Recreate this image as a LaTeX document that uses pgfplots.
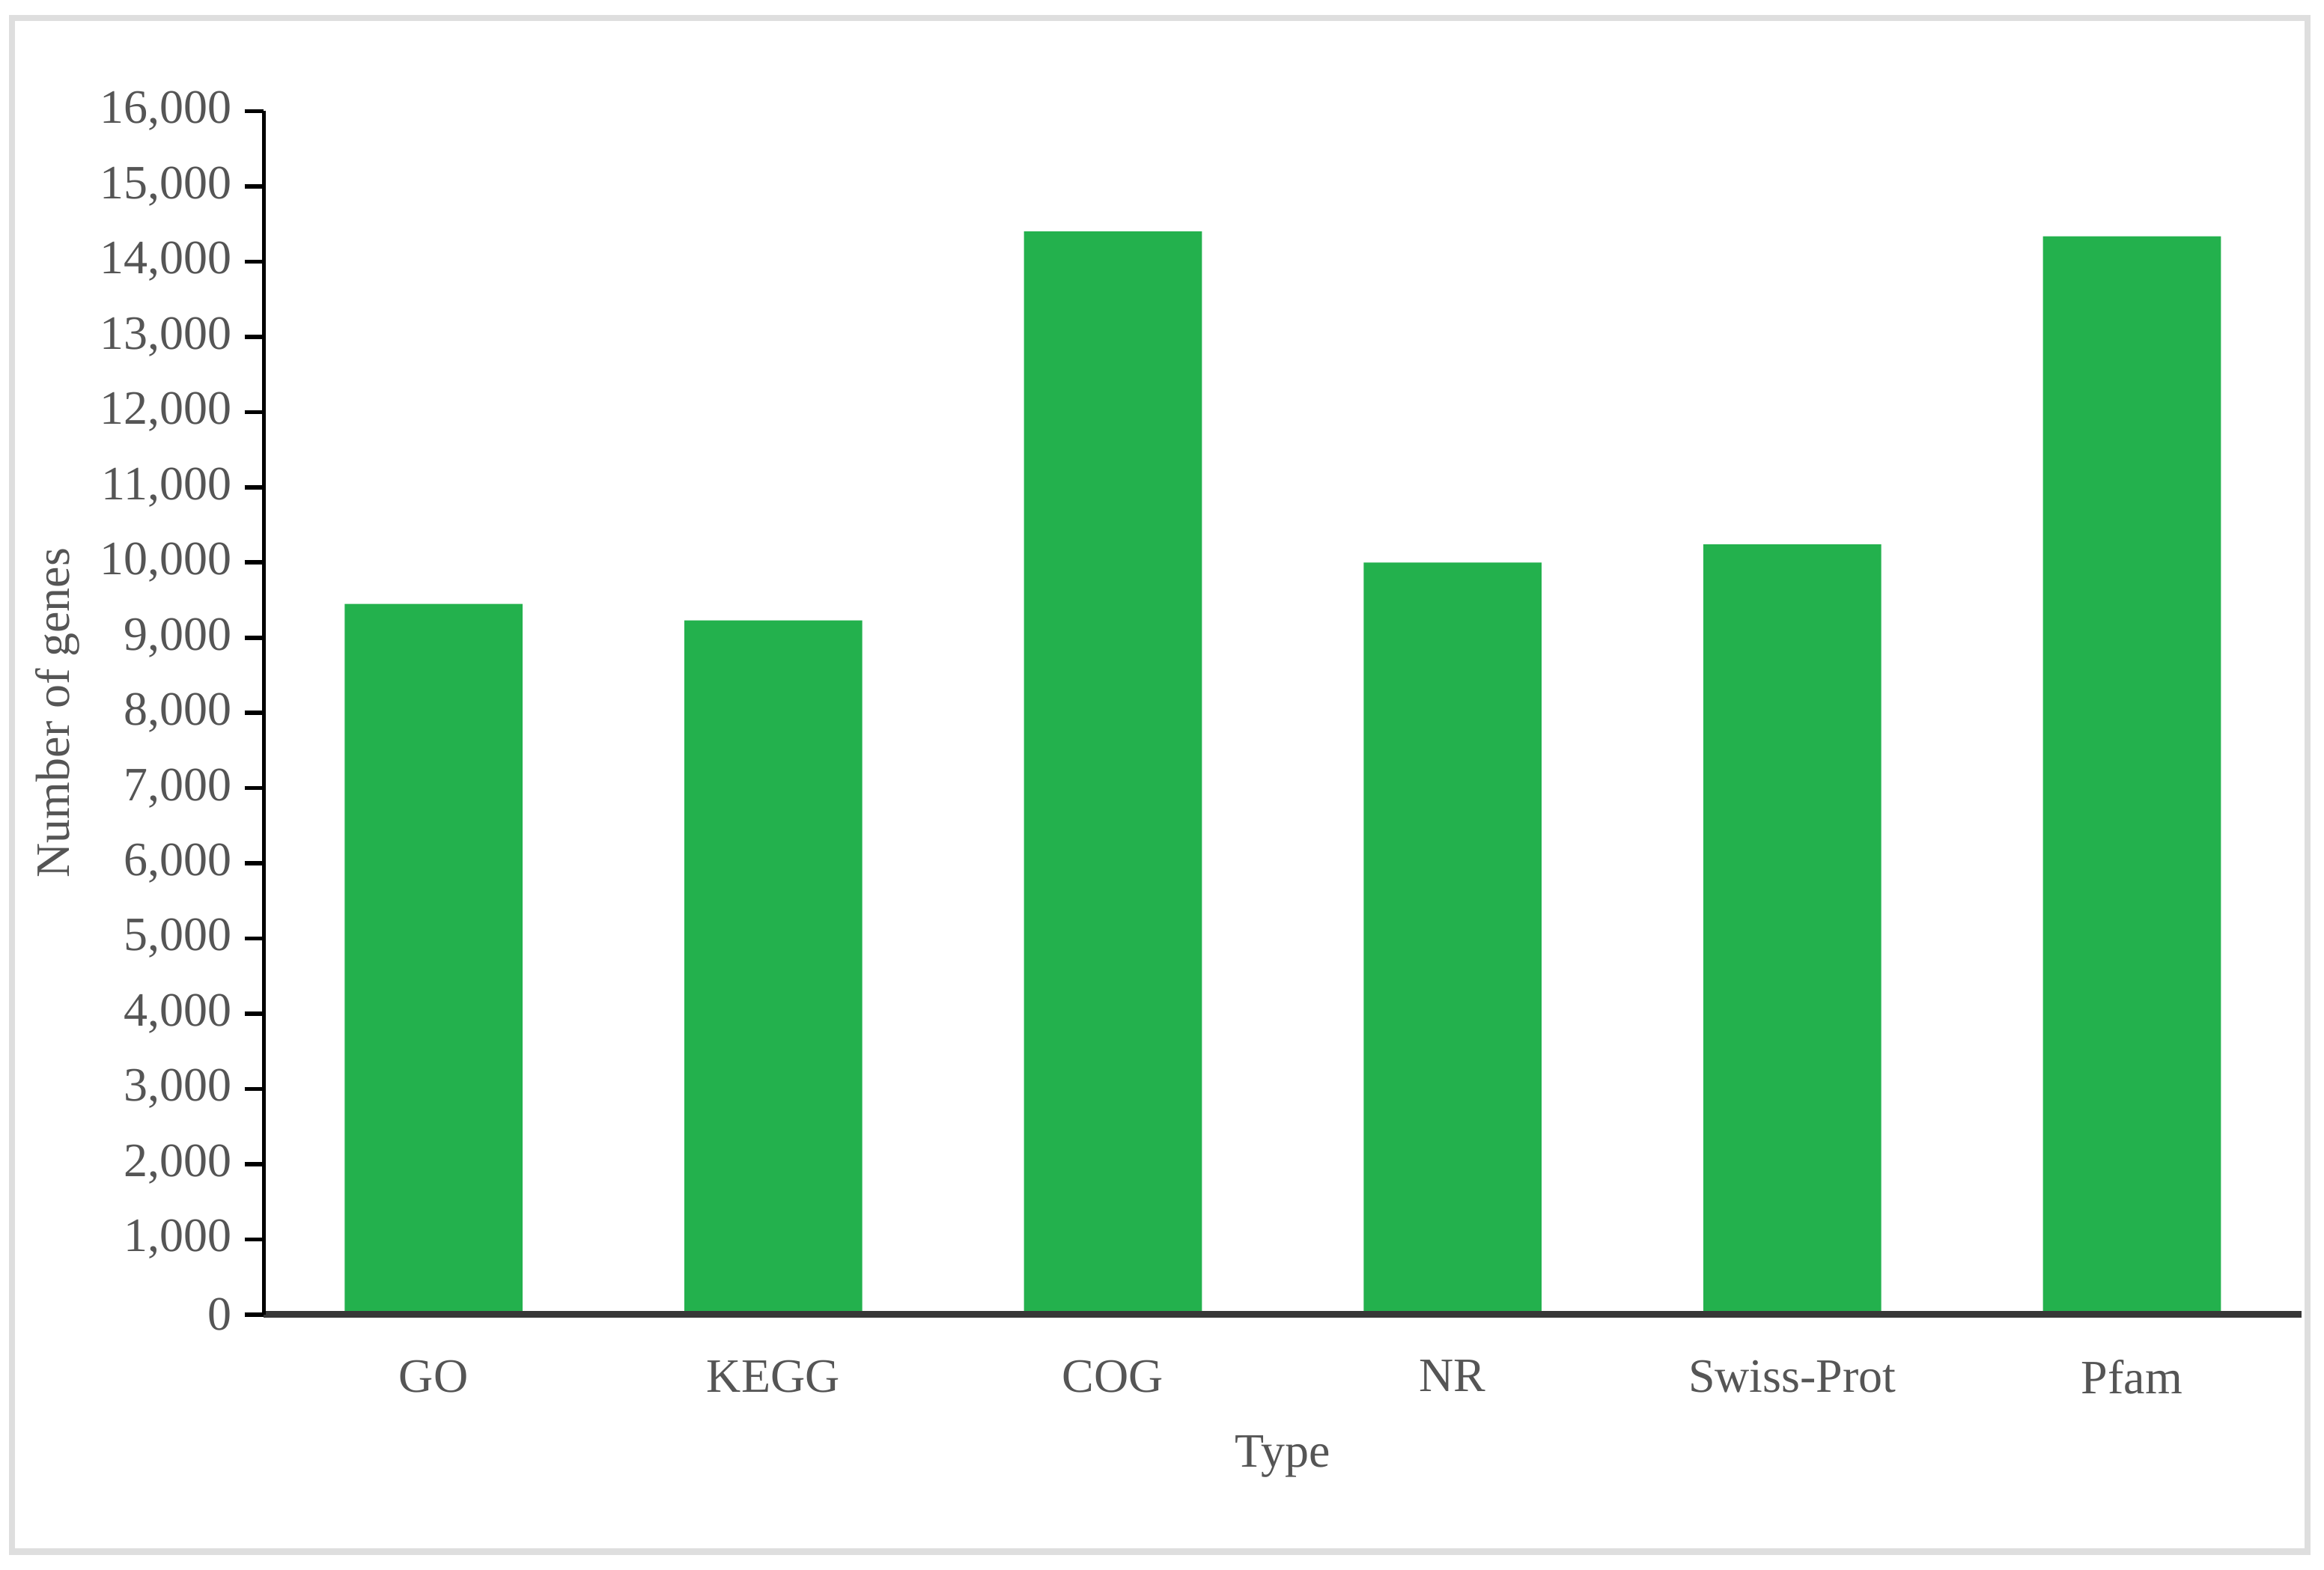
\documentclass[border=0pt]{standalone}
\usepackage{fontspec}
\setmainfont{Liberation Serif}
\usepackage{pgfplots}
\pgfplotsset{compat=1.18}
\definecolor{bargreen}{RGB}{35,177,77}
\definecolor{txtgray}{RGB}{85,85,85}
\definecolor{framegray}{RGB}{222,222,222}
\definecolor{xaxisgray}{RGB}{55,55,55}

\begin{document}
\begin{tikzpicture}
\useasboundingbox (-1.78,-1.72) rectangle (13.90,8.87);
\draw[framegray, line width=1.2pt] (-1.70,-1.60) rectangle (13.79,8.75);
\begin{axis}[
  width=13.75cm, height=8.12cm, scale only axis,
  ybar, bar width=1.2cm,
  xmin=-0.5, xmax=5.5, ymin=0, ymax=16000,
  enlargelimits=false,
  xtick={0,...,5},
  xticklabels={GO,KEGG,COG,NR,Swiss-Prot,Pfam},
  ytick={0,1000,...,16000},
  scaled y ticks=false,
  axis x line*=bottom, axis y line*=left,
  x axis line style={line width=1.3pt, xaxisgray},
  y axis line style={line width=0.8pt, black},
  xtick align=inside, ytick align=outside,
  major tick length=0.13cm,
  xtick style={draw=none},
  ytick style={line width=0.8pt, black},
  axis on top,
  tick label style={font=\fontsize{9.2}{11}\selectfont, text=txtgray},
  /pgf/number format/1000 sep={,},
  /pgf/number format/assume math mode=true,
  yticklabel style={inner sep=0pt, xshift=-0.08cm},
  xticklabel style={inner sep=0pt, anchor=north, yshift=-0.30cm},
  label style={font=\fontsize{9.2}{11}\selectfont, text=txtgray},
  xlabel={Type},
  ylabel={Number of genes},
  xlabel style={at={(axis description cs:0.5,-0.0998)}, anchor=north, inner sep=0pt},
  ylabel style={at={(axis description cs:-0.0953,0.5)}, anchor=base, inner sep=0pt},
]
\addplot[fill=bargreen, draw=none] coordinates
  {(0,9450) (1,9230) (2,14400) (3,10000) (4,10240) (5,14335)};
\end{axis}
\end{tikzpicture}
\end{document}
